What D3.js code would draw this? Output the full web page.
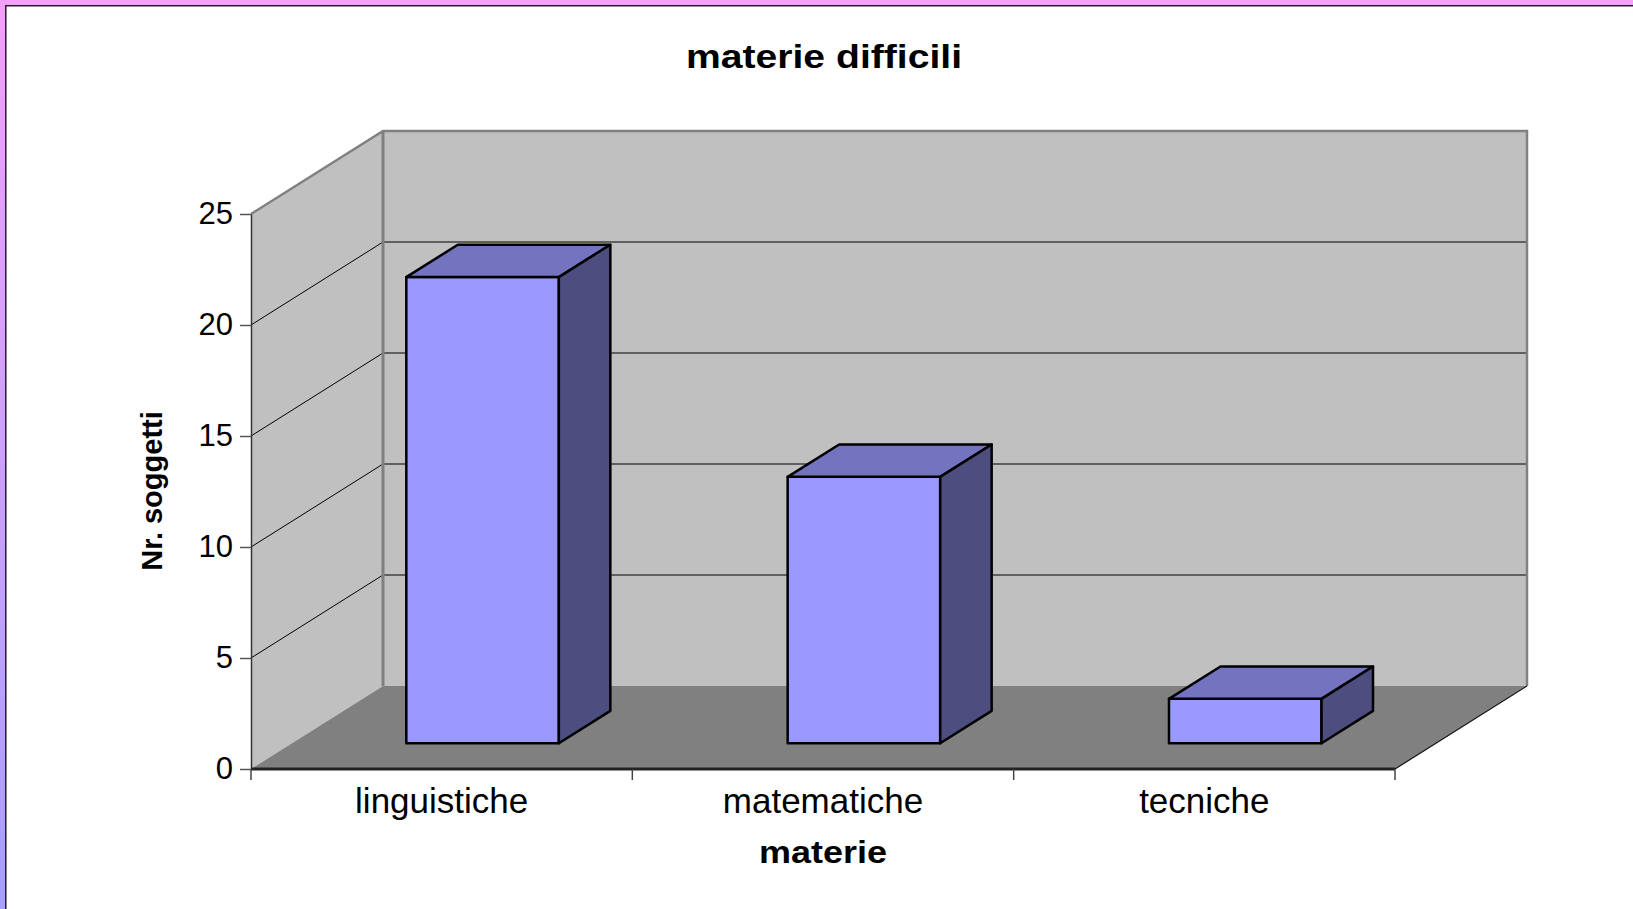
<!DOCTYPE html>
<html>
<head>
<meta charset="utf-8">
<script src="https://cdn.jsdelivr.net/npm/d3@7"></script>
<style>
  html, body { margin: 0; padding: 0; background: #fff; }
  svg { display: block; font-family: "Liberation Sans", Arial, sans-serif; }
</style>
</head>
<body>
<svg id="chart" width="1633" height="909"></svg>
<script>
const categories = ["linguistiche", "matematiche", "tecniche"]
const values = [21, 12, 2]
const yTicks = [0, 5, 10, 15, 20, 25]
const chartTitle = "materie difficili"
const xTitle = "materie"
const yTitle = "Nr. soggetti"

const W = 1633, H = 909
const svg = d3.select("#chart")

// slide frame (left + top band)
const defs = svg.append("defs")
const grad = defs.append("linearGradient")
  .attr("id", "band").attr("x1", 0).attr("y1", 0).attr("x2", 0).attr("y2", 1)
grad.append("stop").attr("offset", "0%").attr("stop-color", "#f2a0f8")
grad.append("stop").attr("offset", "100%").attr("stop-color", "#a6a0ff")

svg.append("rect").attr("x", 0).attr("y", 0).attr("width", 6).attr("height", H).attr("fill", "url(#band)")
svg.append("rect").attr("x", 0).attr("y", 0).attr("width", W).attr("height", 6).attr("fill", "#f2a0f8")
svg.append("path").attr("d", `M5.8,${H} V5.8 H${W}`)
  .attr("fill", "none").attr("stroke", "#2a1a30").attr("stroke-width", 1.5)

// 3d geometry
const x0 = 251, x1 = 1395
const dx = 132, dy = -83

const y = d3.scaleLinear().domain([0, 25]).range([769, 214])
const x = d3.scaleBand().domain(categories).range([x0, x1])
const xb = d3.scaleBand().domain(categories).range([x0, x1])
  .paddingInner(0.6).paddingOuter(0.3)

const poly = pts => "M" + pts.map(p => p.join(",")).join("L") + "Z"

const yTop = y(25), yBot = y(0)

// left wall
svg.append("path")
  .attr("d", poly([[x0, yBot], [x0, yTop], [x0 + dx, yTop + dy], [x0 + dx, yBot + dy]]))
  .attr("fill", "#c0c0c0")

// back wall
svg.append("rect")
  .attr("x", x0 + dx).attr("y", yTop + dy)
  .attr("width", x1 - x0).attr("height", yBot - yTop)
  .attr("fill", "#c0c0c0")

// floor
svg.append("path")
  .attr("d", poly([[x0, yBot], [x0 + dx, yBot + dy], [x1 + dx, yBot + dy], [x1, yBot]]))
  .attr("fill", "#808080")

// gridlines
const grid = svg.append("g").attr("stroke", "#000").attr("stroke-width", 1).attr("fill", "none")
grid.selectAll("path")
  .data(yTicks.filter(v => v > 0 && v < 25))
  .join("path")
  .attr("d", v => `M${x0},${y(v)} L${x0 + dx},${y(v) + dy} H${x1 + dx}`)

// wall edges
svg.append("path")
  .attr("d", `M${x0},${yTop} L${x0 + dx},${yTop + dy} H${x1 + dx} V${yBot + dy}`)
  .attr("fill", "none").attr("stroke", "#808080").attr("stroke-width", 2.5)
svg.append("path")
  .attr("d", `M${x0 + dx},${yTop + dy} V${yBot + dy}`)
  .attr("fill", "none").attr("stroke", "#808080").attr("stroke-width", 3)
svg.append("path")
  .attr("d", `M${x1},${yBot} L${x1 + dx},${yBot + dy}`)
  .attr("fill", "none").attr("stroke", "#111").attr("stroke-width", 1.2)

// bars
const f0 = 0.31, f1 = 0.70
const bars = svg.append("g")
  .attr("stroke", "#000").attr("stroke-width", 2.5).attr("stroke-linejoin", "round")
  .selectAll("g")
  .data(categories.map((c, i) => ({ c, v: values[i] })))
  .join("g")

const bx = d => xb(d.c) + f0 * dx
const bw = xb.bandwidth()
const ddx = (f1 - f0) * dx, ddy = (f1 - f0) * dy

bars.append("path")
  .attr("fill", "#9999ff")
  .attr("d", d => {
    const l = bx(d), t = y(d.v) + f0 * dy, b = y(0) + f0 * dy
    return poly([[l, t], [l + bw, t], [l + bw, b], [l, b]])
  })
bars.append("path")
  .attr("fill", "#7373bf")
  .attr("d", d => {
    const l = bx(d), t = y(d.v) + f0 * dy
    return poly([[l, t], [l + ddx, t + ddy], [l + bw + ddx, t + ddy], [l + bw, t]])
  })
bars.append("path")
  .attr("fill", "#4d4d80")
  .attr("d", d => {
    const r = bx(d) + bw, t = y(d.v) + f0 * dy, b = y(0) + f0 * dy
    return poly([[r, t], [r + ddx, t + ddy], [r + ddx, b + ddy], [r, b]])
  })

// y axis
const yAxis = svg.append("g")
  .attr("transform", `translate(${x0},0)`)
  .call(d3.axisLeft(y).tickValues(yTicks).tickSize(11).tickPadding(7).tickSizeOuter(0))
yAxis.select(".domain").attr("stroke", "#333").attr("stroke-width", 1.5)
yAxis.selectAll(".tick line").attr("stroke", "#555").attr("stroke-width", 1.5)
yAxis.selectAll(".tick text")
  .attr("font-size", 31).attr("fill", "#000")
  .attr("font-family", "Liberation Sans, Arial, sans-serif")

// x axis: front floor edge, boundary ticks, labels
svg.append("line")
  .attr("x1", x0).attr("x2", x1).attr("y1", yBot).attr("y2", yBot)
  .attr("stroke", "#222").attr("stroke-width", 3)

svg.append("g").selectAll("line")
  .data([...categories.map(c => x(c)), x1])
  .join("line")
  .attr("x1", d => d).attr("x2", d => d)
  .attr("y1", yBot).attr("y2", yBot + 11)
  .attr("stroke", "#444").attr("stroke-width", 1.5)

const xAxis = svg.append("g")
  .attr("transform", `translate(0,${yBot})`)
  .call(d3.axisBottom(x).tickSize(0).tickPadding(19))
xAxis.select(".domain").remove()
xAxis.selectAll(".tick text")
  .attr("font-size", 35).attr("fill", "#000")
  .attr("font-family", "Liberation Sans, Arial, sans-serif")

// titles
svg.append("text")
  .attr("x", 824).attr("y", 68)
  .attr("text-anchor", "middle")
  .attr("font-size", 33).attr("font-weight", "bold")
  .attr("textLength", 276).attr("lengthAdjust", "spacingAndGlyphs")
  .text(chartTitle)

svg.append("text")
  .attr("x", 823).attr("y", 863)
  .attr("text-anchor", "middle")
  .attr("font-size", 31).attr("font-weight", "bold")
  .attr("textLength", 128).attr("lengthAdjust", "spacingAndGlyphs")
  .text(xTitle)

svg.append("text")
  .attr("transform", "translate(162,491) rotate(-90)")
  .attr("text-anchor", "middle")
  .attr("font-size", 29).attr("font-weight", "bold")
  .text(yTitle)
</script>
</body>
</html>
